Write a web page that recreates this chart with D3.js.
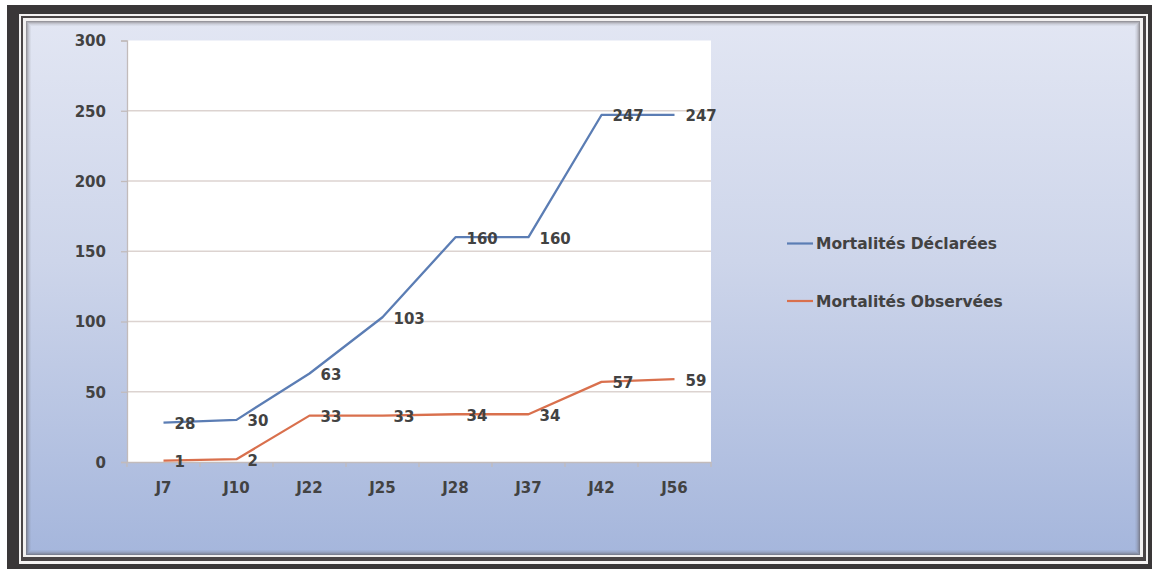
<!DOCTYPE html>
<html>
<head>
<meta charset="utf-8">
<script src="https://cdn.jsdelivr.net/npm/d3@7"></script>
<style>
  html, body { margin: 0; padding: 0; background: #ffffff; }
  svg { display: block; }
  text { font-family: "DejaVu Sans", Verdana, sans-serif; font-weight: bold; fill: #424242; }
</style>
</head>
<body>
<svg id="chart" width="1152" height="569"></svg>
<script>
// Days of observation and cumulative mortality counts
const categories = ["J7", "J10", "J22", "J25", "J28", "J37", "J42", "J56"];
const declarees = [28, 30, 63, 103, 160, 160, 247, 247];
const observees = [1, 2, 33, 33, 34, 34, 57, 59];
const yTicks = [0, 50, 100, 150, 200, 250, 300];
const seriesNames = ["Mortalités Déclarées", "Mortalités Observées"];
const seriesColors = ["#5b7db4", "#d9704d"];

const svg = d3.select("#chart");
const W = 1152, H = 569;

// ---- decorative frame ----
const defs = svg.append("defs");
const grad = defs.append("linearGradient")
  .attr("id", "panelGrad").attr("x1", 0).attr("y1", 0).attr("x2", 0).attr("y2", 1);
grad.append("stop").attr("offset", "0%").attr("stop-color", "#e2e6f3");
grad.append("stop").attr("offset", "45%").attr("stop-color", "#cdd5ea");
grad.append("stop").attr("offset", "100%").attr("stop-color", "#a5b6dc");

svg.append("rect").attr("x", 7).attr("y", 5).attr("width", W - 7).attr("height", H - 5).attr("fill", "#3a3738");
svg.append("rect").attr("x", 19).attr("y", 14).attr("width", 1129).attr("height", 550).attr("fill", "#f4f2f2");
svg.append("rect").attr("x", 21).attr("y", 16).attr("width", 1125).attr("height", 545).attr("fill", "#4a4546");
svg.append("rect").attr("x", 23).attr("y", 18).attr("width", 1120).attr("height", 539).attr("fill", "#f2f0f0");

const panel = { x: 26, y: 21, w: 1114, h: 534 };
svg.append("rect").attr("x", panel.x).attr("y", panel.y).attr("width", panel.w).attr("height", panel.h)
  .attr("fill", "url(#panelGrad)");
// soft inner bevel along the panel edge
[[0.5, 0.55], [1.5, 0.38], [2.5, 0.24], [3.5, 0.13], [4.5, 0.06]].forEach(([inset, op]) => {
  svg.append("rect")
    .attr("x", panel.x + inset).attr("y", panel.y + inset)
    .attr("width", panel.w - 2 * inset).attr("height", panel.h - 2 * inset)
    .attr("fill", "none").attr("stroke", "#5a5455").attr("stroke-opacity", op).attr("stroke-width", 1);
});

// ---- plot area ----
const plot = { left: 127, right: 711, top: 40.5, bottom: 462 };

const x = d3.scaleBand().domain(categories).range([plot.left, plot.right]).paddingInner(0).paddingOuter(0);
const y = d3.scaleLinear().domain([0, 300]).range([plot.bottom, plot.top]);
const cx = d => x(d) + x.bandwidth() / 2;

svg.append("rect")
  .attr("x", plot.left).attr("y", plot.top)
  .attr("width", plot.right - plot.left).attr("height", plot.bottom - plot.top)
  .attr("fill", "#ffffff");

// horizontal gridlines
svg.append("g").selectAll("line")
  .data(yTicks.filter(t => t > 0 && t < 300))
  .join("line")
  .attr("x1", plot.left).attr("x2", plot.right)
  .attr("y1", d => y(d)).attr("y2", d => y(d))
  .attr("stroke", "#dcd3d0").attr("stroke-width", 1.3);

// y axis
const yAxis = svg.append("g")
  .attr("transform", `translate(${plot.left},0)`)
  .call(d3.axisLeft(y).tickValues(yTicks).tickSize(6).tickPadding(15));
yAxis.select(".domain").attr("stroke", "#c2bbbb").attr("stroke-width", 1.3);
yAxis.selectAll(".tick line").attr("stroke", "#c2bbbb").attr("stroke-width", 1.3);
yAxis.selectAll(".tick text")
  .attr("font-size", 15).attr("font-family", "DejaVu Sans").attr("font-weight", "bold")
  .attr("fill", "#424242").attr("dy", "0.36em").attr("x", -21);

// x axis
const xAxis = svg.append("g")
  .attr("transform", `translate(0,${plot.bottom})`)
  .call(d3.axisBottom(x).tickSize(0).tickPadding(23));
xAxis.select(".domain").attr("stroke", "#c2bbbb").attr("stroke-width", 1.3);
xAxis.selectAll(".tick text")
  .attr("font-size", 15).attr("font-family", "DejaVu Sans").attr("font-weight", "bold")
  .attr("fill", "#424242").attr("dy", "0.5em");
// category separator ticks
xAxis.append("g").selectAll("line")
  .data(d3.range(categories.length + 1))
  .join("line")
  .attr("x1", i => plot.left + i * x.bandwidth())
  .attr("x2", i => plot.left + i * x.bandwidth())
  .attr("y1", 0).attr("y2", 5)
  .attr("stroke", "#c2bbbb").attr("stroke-width", 1.3);

// ---- series ----
const series = [declarees, observees];
const line = d3.line().x((d, i) => cx(categories[i])).y(d => y(d));

series.forEach((vals, s) => {
  svg.append("path")
    .datum(vals)
    .attr("d", line)
    .attr("fill", "none")
    .attr("stroke", seriesColors[s])
    .attr("stroke-width", 2.3)
    .attr("stroke-linejoin", "round");
});

// data labels to the right of each point
series.forEach((vals, s) => {
  svg.append("g").selectAll("text")
    .data(vals)
    .join("text")
    .attr("x", (d, i) => cx(categories[i]) + 11)
    .attr("y", d => y(d) + 1)
    .attr("dy", "0.36em")
    .attr("font-size", 15)
    .text(d => d);
});

// ---- legend ----
const legendY = [243.5, 301];
seriesNames.forEach((name, s) => {
  const g = svg.append("g").attr("transform", `translate(787,${legendY[s]})`);
  g.append("line").attr("x1", 0).attr("x2", 26).attr("y1", 0).attr("y2", 0)
    .attr("stroke", seriesColors[s]).attr("stroke-width", 2.2);
  g.append("text").attr("x", 29).attr("y", 0).attr("dy", "0.36em")
    .attr("font-size", 15.5).text(name);
});
</script>
</body>
</html>
